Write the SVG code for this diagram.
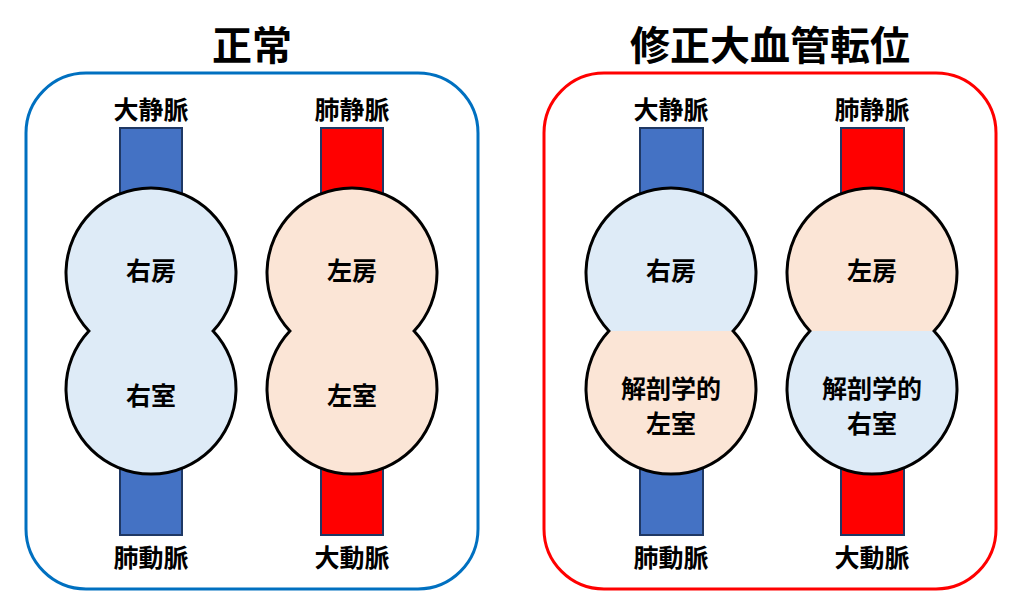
<svg xmlns="http://www.w3.org/2000/svg" width="1024" height="614" viewBox="0 0 1024 614">
<style>
text{font-family:"Noto Sans CJK JP","Noto Sans CJK SC",sans-serif;font-weight:bold;fill:#000;text-anchor:middle}
.t{font-size:40px}.l{font-size:25px}.c{font-size:25px}
.b{fill:#4472C4;stroke:#1F3864;stroke-width:2}.r{fill:#FF0000;stroke:#1F3864;stroke-width:2}
.ol{fill:none;stroke:#000;stroke-width:3}
.lb{fill:#DEEBF7}.pk{fill:#FBE5D6}
</style>
<defs>
<path id="full" d="M-62.1,331 A85 85 0 1 1 62.1,331 A85 85 0 1 1 -62.1,331 Z"/>
<path id="top" d="M-62.1,331 A85 85 0 1 1 62.1,331 Z"/>
<path id="bot" d="M62.1,331 A85 85 0 1 1 -62.1,331 Z"/>
</defs>
<text class="t" x="252" y="60">正常</text>
<text class="t" x="770" y="60">修正大血管転位</text>
<rect x="26" y="73" width="452" height="516" rx="60" fill="none" stroke="#0070C0" stroke-width="3"/>
<rect x="544" y="73" width="452" height="516" rx="60" fill="none" stroke="#FF0000" stroke-width="3"/>
<g id="n-normal-right">
<rect class="b" x="120" y="128" width="62" height="80"/><rect class="b" x="120" y="455" width="62" height="80"/>
<g transform="translate(151,0)"><use href="#full" class="lb"/><use href="#full" class="ol"/></g>
<text class="c" x="151" y="280">右房</text><text class="c" x="151" y="405">右室</text>
<text class="l" x="151" y="119">大静脈</text><text class="l" x="151" y="567">肺動脈</text>
</g>
<g id="n-normal-left">
<rect class="r" x="321" y="128" width="62" height="80"/><rect class="r" x="321" y="455" width="62" height="80"/>
<g transform="translate(352,0)"><use href="#full" class="pk"/><use href="#full" class="ol"/></g>
<text class="c" x="352" y="280">左房</text><text class="c" x="352" y="405">左室</text>
<text class="l" x="352" y="119">肺静脈</text><text class="l" x="352" y="567">大動脈</text>
</g>
<g id="n-cc-right">
<rect class="b" x="640" y="128" width="63" height="80"/><rect class="b" x="640" y="455" width="63" height="80"/>
<g transform="translate(671,0)"><use href="#top" class="lb"/><use href="#bot" class="pk"/><use href="#full" class="ol"/></g>
<text class="c" x="671" y="280">右房</text><text class="c" x="671" y="398">解剖学的</text><text class="c" x="671" y="433">左室</text>
<text class="l" x="671" y="119">大静脈</text><text class="l" x="671" y="567">肺動脈</text>
</g>
<g id="n-cc-left">
<rect class="r" x="841" y="128" width="63" height="80"/><rect class="r" x="841" y="455" width="63" height="80"/>
<g transform="translate(872,0)"><use href="#top" class="pk"/><use href="#bot" class="lb"/><use href="#full" class="ol"/></g>
<text class="c" x="872" y="280">左房</text><text class="c" x="872" y="398">解剖学的</text><text class="c" x="872" y="433">右室</text>
<text class="l" x="872" y="119">肺静脈</text><text class="l" x="872" y="567">大動脈</text>
</g>
<g id="connectors"/>
</svg>
